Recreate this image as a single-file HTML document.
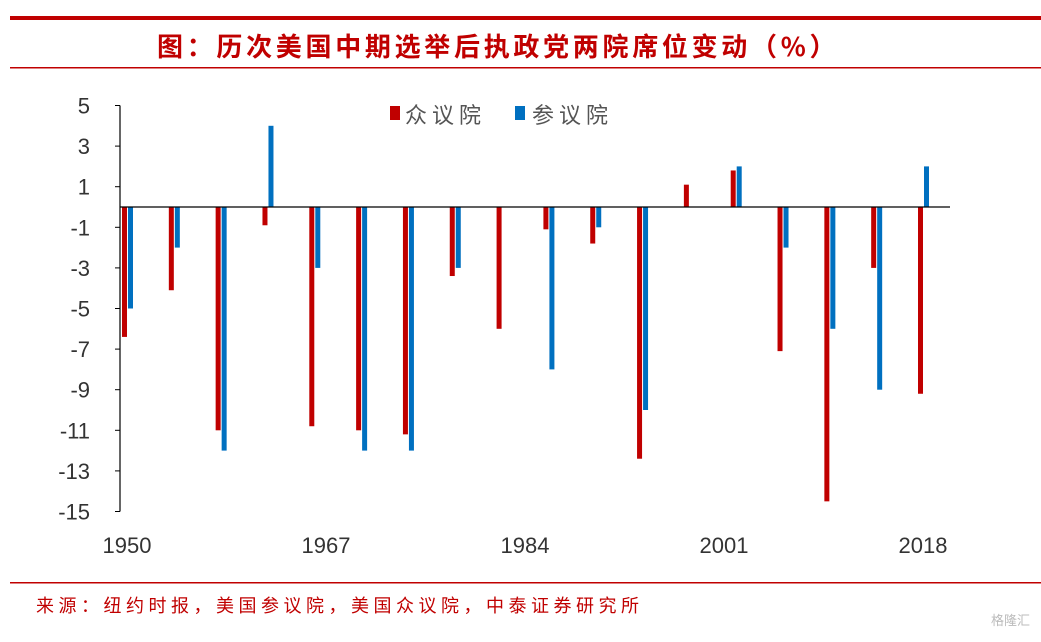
<!DOCTYPE html>
<html><head><meta charset="utf-8"><style>
body{margin:0;background:#fff;width:1041px;height:637px;overflow:hidden;font-family:"Liberation Sans","Noto Sans CJK SC",sans-serif}
</style></head><body>
<svg width="1041" height="637">
<rect x="10" y="16" width="1032" height="4" fill="#c00000"/>
<text x="157" y="56" font-size="26" letter-spacing="3.7" font-weight="bold" fill="#c00000" font-family="Noto Sans CJK SC, sans-serif">图：历次美国中期选举后执政党两院席位变动（%）</text>
<rect x="10" y="67" width="1032" height="1.5" fill="#c00000"/>
<rect x="10" y="582" width="1032" height="1.5" fill="#c00000"/>
<text x="36" y="612" font-size="18" letter-spacing="4.5" fill="#c00000" font-family="Noto Sans CJK SC, sans-serif">来源：纽约时报，美国参议院，美国众议院，中泰证券研究所</text>
<text x="1030" y="625" text-anchor="end" font-size="13" fill="#bbb">格隆汇</text>
<rect x="390" y="106" width="10" height="14" fill="#c00000"/>
<text x="405" y="123" font-size="22" letter-spacing="5" fill="#555" font-family="Noto Sans CJK SC, sans-serif">众议院</text>
<rect x="515" y="106" width="10" height="14" fill="#0070c0"/>
<text x="532" y="123" font-size="22" letter-spacing="5" fill="#555" font-family="Noto Sans CJK SC, sans-serif">参议院</text>
<g id="plot"></g>
</svg>
<script>
const years=[1950,1954,1958,1962,1966,1970,1974,1978,1982,1986,1990,1994,1998,2002,2006,2010,2014,2018];
const house=[-6.4,-4.1,-11,-0.9,-10.8,-11,-11.2,-3.4,-6,-1.1,-1.8,-12.4,1.1,1.8,-7.1,-14.5,-3,-9.2];
const senate=[-5,-2,-12,4,-3,-12,-12,-3,0,-8,-1,-10,0,2,-2,-6,-9,2];
const yTicks=[5,3,1,-1,-3,-5,-7,-9,-11,-13,-15];
const xLabels=[1950,1967,1984,2001,2018];
const NS="http://www.w3.org/2000/svg";
const g=document.getElementById('plot');
const y=v=>207-(v)*20.3;
const x=yr=>127+(yr-1950)*(923-127)/68;
function mk(t,a){const e=document.createElementNS(NS,t);for(const k in a)e.setAttribute(k,a[k]);g.appendChild(e);return e;}
let ax=mk('line',{x1:120,y1:y(5),x2:120,y2:y(-15),stroke:'#000','stroke-width':1.2});


yTicks.forEach(v=>{
 let t=mk('line',{x1:115,x2:120,y1:y(v),y2:y(v),stroke:'#000'});
 
 
 let l=mk('text',{x:90,y:y(v)+8,'text-anchor':'end','font-size':22,fill:'#333'});
 l.textContent=v;
 
 
});
xLabels.forEach(v=>{
 let l=mk('text',{x:x(v),y:553,'text-anchor':'middle','font-size':22,fill:'#333'});
 l.textContent=v;
 
 
});
years.forEach((yr,i)=>{
 const cx=x(yr);
 [[house[i],cx-5,'#c00000','bar-house'],[senate[i],cx+1,'#0070c0','bar-senate']].forEach(([v,bx,c,n])=>{
  const r=mk('rect',{x:bx,y:Math.min(y(v),y(0)),width:5,height:Math.abs(y(v)-y(0)),fill:c});
  
  
 });
});
let z=mk('line',{x1:120,y1:y(0),x2:950,y2:y(0),stroke:'#000','stroke-width':1.2});


</script>
</body></html>
